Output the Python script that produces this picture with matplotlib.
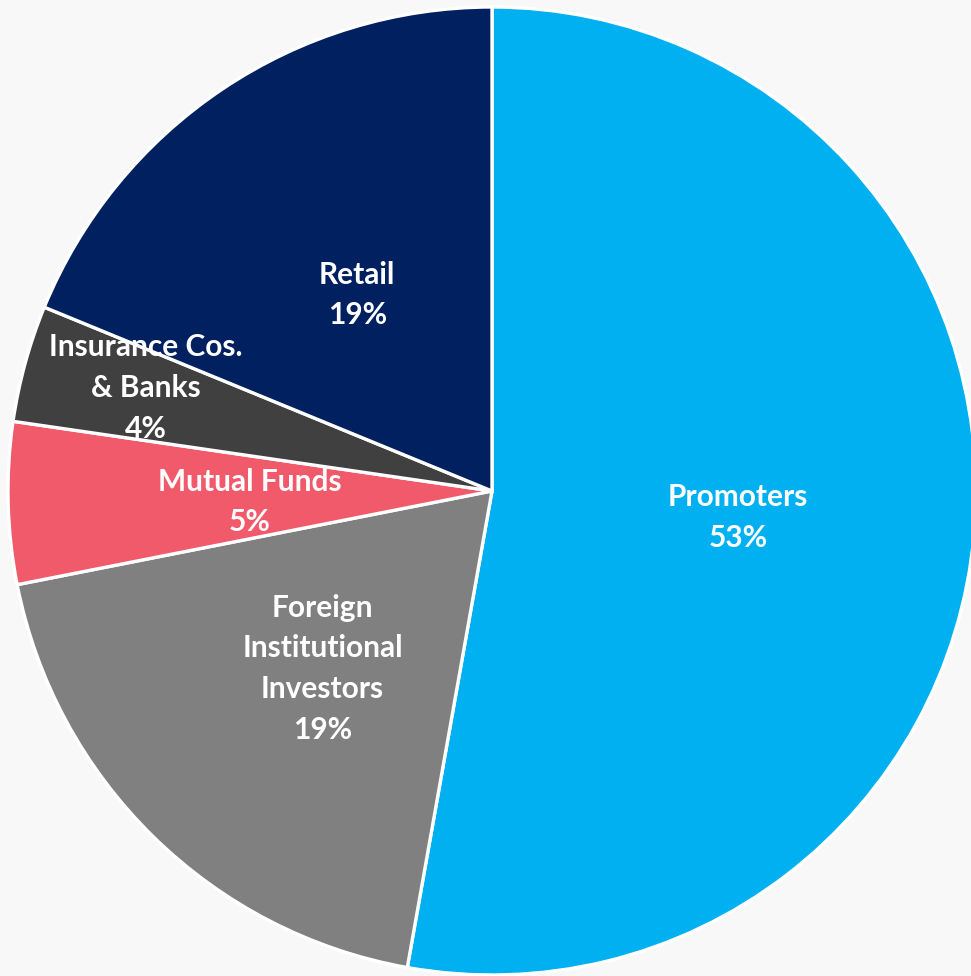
import numpy as np
import matplotlib
matplotlib.use("Agg")
import matplotlib.pyplot as plt
from matplotlib.transforms import offset_copy

labels = ["Promoters", "Foreign\nInstitutional\nInvestors", "Mutual Funds", "Insurance Cos.\n& Banks", "Retail"]
values = [52.8, 19.1, 5.4, 3.9, 18.8]
colors = ["#00B0F0", "#808080", "#F05A6B", "#404040", "#002060"]
label_dist = [0.51, 0.50, 0.50, 0.75, 0.50]
label_rot = [0, 0, 0, -2, 0]

W, H = 971, 976
fig = plt.figure(figsize=(W / 100, H / 100), dpi=100)
fig.patch.set_facecolor("#F8F8F8")
cx, cy, r = 492, 491, 484
ax = fig.add_axes([(cx - r) / W, (H - cy - r) / H, 2 * r / W, 2 * r / H])

wedges, _ = ax.pie(values, colors=colors, startangle=90, counterclock=False, radius=1,
                   wedgeprops=dict(edgecolor="white", linewidth=2.4))
ax.set_xlim(-1, 1)
ax.set_ylim(-1, 1)
ax.set_aspect("equal")
ax.axis("off")
tr = offset_copy(ax.transData, fig=fig, x=0, y=-5, units="dots")
for w, lab, v, d, dr in zip(wedges, labels, values, label_dist, label_rot):
    ang = np.deg2rad((w.theta1 + w.theta2) / 2 + dr)
    ax.text(d * np.cos(ang), d * np.sin(ang), f"{lab}\n{round(v)}%", ha="center", va="center",
            color="white", fontsize=21.5, fontweight="bold", family="Lato", linespacing=1.55,
            transform=tr)

fig.savefig("out.png", dpi=100, facecolor=fig.get_facecolor())
